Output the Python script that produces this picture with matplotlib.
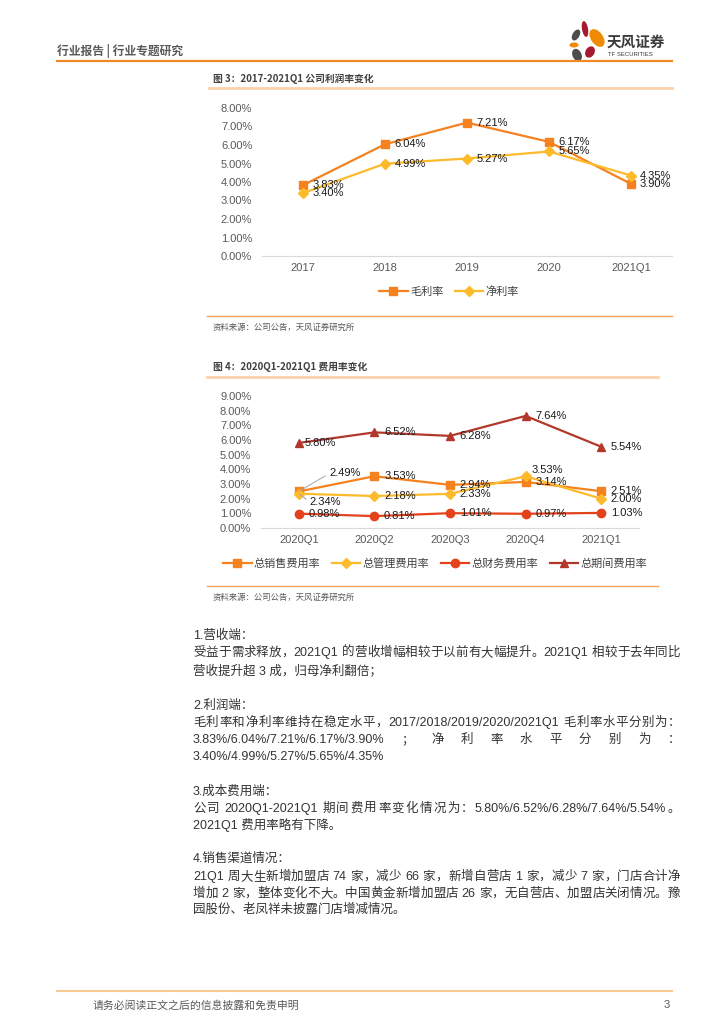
import re
import matplotlib
matplotlib.use('Agg')
import matplotlib.pyplot as plt
from matplotlib.patches import Ellipse
import numpy as np

plt.rcParams['font.family'] = ['Liberation Sans', 'Noto Sans CJK SC']

# ---- data ----
years = ['2017', '2018', '2019', '2020', '2021Q1']
gross_margin = [3.83, 6.04, 7.21, 6.17, 3.90]
net_margin = [3.40, 4.99, 5.27, 5.65, 4.35]

quarters = ['2020Q1', '2020Q2', '2020Q3', '2020Q4', '2021Q1']
selling_rate = [2.49, 3.53, 2.94, 3.14, 2.51]
admin_rate = [2.34, 2.18, 2.33, 3.53, 2.00]
finance_rate = [0.98, 0.81, 1.01, 0.97, 1.03]
period_rate = [5.80, 6.52, 6.28, 7.64, 5.54]

# (text, y, justify)
body = [
    ('1.营收端：', 636, False),
    ('受益于需求释放，2021Q1 的营收增幅相较于以前有大幅提升。2021Q1 相较于去年同比', 653, True),
    ('营收提升超 3 成，归母净利翻倍；', 671, False),
    ('2.利润端：', 706, False),
    ('毛利率和净利率维持在稳定水平，2017/2018/2019/2020/2021Q1 毛利率水平分别为：', 723, True),
    ('3.83%/6.04%/7.21%/6.17%/3.90%；净利率水平分别为：', 740, True),
    ('3.40%/4.99%/5.27%/5.65%/4.35%', 757, False),
    ('3.成本费用端：', 792, False),
    ('公司 2020Q1-2021Q1 期间费用率变化情况为：5.80%/6.52%/6.28%/7.64%/5.54%。', 809, True),
    ('2021Q1 费用率略有下降。', 825, False),
    ('4.销售渠道情况：', 859, False),
    ('21Q1 周大生新增加盟店 74 家，减少 66 家，新增自营店 1 家，减少 7 家，门店合计净', 877, True),
    ('增加 2 家，整体变化不大。中国黄金新增加盟店 26 家，无自营店、加盟店关闭情况。豫', 894, True),
    ('园股份、老凤祥未披露门店增减情况。', 910, False),
]

W, H = 724, 1024
fig = plt.figure(figsize=(7.24, 10.24), dpi=100)
page = fig.add_axes([0, 0, 1, 1], zorder=0)
page.set_xlim(0, W)
page.set_ylim(H, 0)
page.axis('off')

ORANGE = '#F5821F'
GOLD = '#FDBB2C'
RED = '#E3421D'
DARKRED = '#B3382C'
GRAY = '#595959'


def px_axes(l, t, r, b):
    ax = fig.add_axes([l / W, 1 - b / H, (r - l) / W, (b - t) / H], zorder=2)
    ax.patch.set_alpha(0)
    return ax


def style(ax, ymax, cats):
    ax.set_ylim(0, ymax)
    ax.set_yticks(np.arange(0, ymax + 1))
    ax.yaxis.set_major_formatter(lambda v, p: f'{v:.2f}%')
    ax.set_xticks(range(len(cats)))
    ax.set_xticklabels(cats)
    ax.set_xlim(-0.5, len(cats) - 0.5)
    for s in ['left', 'right', 'top']:
        ax.spines[s].set_visible(False)
    ax.spines['bottom'].set_color('#d9d9d9')
    ax.tick_params(length=0, labelsize=8, labelcolor=GRAY)
    ax.tick_params(axis='y', pad=7)
    ax.tick_params(axis='x', pad=5)


def label(ax, i, v, dx=7, dy=0, line=False):
    kw = {}
    if line:
        kw['arrowprops'] = dict(arrowstyle='-', color='#a6a6a6', lw=0.7,
                                shrinkA=1, shrinkB=1, relpos=(0, 0.5))
    ax.annotate(f'{v:.2f}%', (i, v), xytext=(dx, dy), textcoords='offset points',
                ha='left', va='center', fontsize=8, color='#1a1a1a', zorder=5, **kw)


# ---- header ----
page.text(57, 51, '行业报告 | 行业专题研究', fontsize=8.5, fontweight='bold',
          color=GRAY, va='center', family=['Noto Sans CJK SC'])
page.plot([57, 672], [61, 61], color='#F08A24', lw=1.6)
for (cx, cy, w, h, ang, col) in [
        (576, 35, 7, 12, 30, '#4d4d4d'),
        (585, 29, 6, 16, -10, '#A6192E'),
        (597, 38, 12, 20, -35, '#F08A00'),
        (574, 45, 9, 5, 0, '#F08A00'),
        (590, 52, 9, 12, 30, '#A6192E'),
        (577, 55, 9, 13, -25, '#4d4d4d')]:
    page.add_patch(Ellipse((cx, cy), w, h, angle=ang, color=col, lw=0))
page.text(607, 42, '天风证券', fontsize=10.5, fontweight='bold', color='#3a3a3a',
          va='center', family=['Noto Sans CJK SC'])
page.text(608, 55, 'TF SECURITIES', fontsize=4.3, color='#3a3a3a', va='center')

# ---- figure 3 ----
page.text(213, 79, '图 3：2017-2021Q1 公司利润率变化', fontsize=7, fontweight='bold',
          color='#404040', va='center', family=['Noto Sans CJK SC'])
page.plot([209, 672], [88, 88], color='#FBD2AC', lw=2)

ax1 = px_axes(262, 108, 672, 256)
x = np.arange(len(years))
ax1.plot(x, gross_margin, color=ORANGE, lw=1.6, marker='s', ms=6, label='毛利率', zorder=3)
ax1.plot(x, net_margin, color=GOLD, lw=1.6, marker='D', ms=5, label='净利率', zorder=3)
style(ax1, 8, years)
for i, v in enumerate(gross_margin):
    label(ax1, i, v, dx=7 if i < 4 else 6)
for i, v in enumerate(net_margin):
    label(ax1, i, v, dx=7 if i < 4 else 6)
ax1.legend(loc='center', bbox_to_anchor=(449 / W, 1 - 292 / H), bbox_transform=fig.transFigure,
           ncol=2, frameon=False, fontsize=8, handlelength=2.6, handletextpad=0.2,
           columnspacing=1.0, labelcolor='#404040')

page.plot([207, 672], [316, 316], color='#F4A15A', lw=1)
page.text(213, 327, '资料来源：公司公告，天风证券研究所', fontsize=6, color=GRAY, va='center',
          family=['Noto Sans CJK SC'])

# ---- figure 4 ----
page.text(213, 367, '图 4：2020Q1-2021Q1 费用率变化', fontsize=7, fontweight='bold',
          color='#404040', va='center', family=['Noto Sans CJK SC'])
page.plot([207, 658], [377, 377], color='#FBD2AC', lw=2)

ax2 = px_axes(261, 396, 639, 528)
x = np.arange(len(quarters))
ax2.plot(x, selling_rate, color=ORANGE, lw=1.6, marker='s', ms=6, label='总销售费用率', zorder=3)
ax2.plot(x, admin_rate, color=GOLD, lw=1.6, marker='D', ms=5, label='总管理费用率', zorder=3)
ax2.plot(x, finance_rate, color=RED, lw=1.6, marker='o', ms=6, label='总财务费用率', zorder=3)
ax2.plot(x, period_rate, color=DARKRED, lw=1.6, marker='^', ms=6, label='总期间费用率', zorder=3)
style(ax2, 9, quarters)
for i, v in enumerate(selling_rate):
    if i == 0:
        label(ax2, i, v, dx=22, dy=13, line=True)
    else:
        label(ax2, i, v)
for i, v in enumerate(admin_rate):
    if i == 0:
        label(ax2, i, v, dx=8, dy=-6, line=True)
    elif i == 3:
        label(ax2, i, v, dx=4.5, dy=4.5)
    else:
        label(ax2, i, v)
for i, v in enumerate(finance_rate):
    label(ax2, i, v)
for i, v in enumerate(period_rate):
    label(ax2, i, v, dx=4 if i == 0 else 7)
ax2.legend(loc='center', bbox_to_anchor=(435 / W, 1 - 563 / H), bbox_transform=fig.transFigure,
           ncol=4, frameon=False, fontsize=8, handlelength=2.6, handletextpad=0.2,
           columnspacing=1.0, labelcolor='#404040')

page.plot([207, 658], [586, 586], color='#F4A15A', lw=1)
page.text(213, 597, '资料来源：公司公告，天风证券研究所', fontsize=6, color=GRAY, va='center',
          family=['Noto Sans CJK SC'])

# ---- body text ----
renderer = fig.canvas.get_renderer()
body_kw = dict(fontsize=9, color='#333333', va='center')
left, right = 193, 680


def width(s):
    t = page.text(0, 0, s, **body_kw)
    w = t.get_window_extent(renderer).width
    t.remove()
    return w


for s, y, just in body:
    if not just:
        page.text(left, y, s, **body_kw)
        continue
    toks = re.findall(r'[A-Za-z0-9.%/\-]+| |.', s)
    units, extra = [], []
    for tk in toks:
        if tk == ' ':
            if extra:
                extra[-1] += 3.5
            continue
        units.append(tk)
        extra.append(0.0)
    ws = [width(u) for u in units]
    fixed = sum(ws) + sum(extra[:-1])
    gap = (right - left - fixed) / (len(units) - 1)
    xx = left
    for u, w, e in zip(units, ws, extra):
        page.text(xx, y, u, **body_kw)
        xx += w + gap + e

# ---- footer ----
page.plot([57, 672], [991, 991], color='#F9CB94', lw=1.5)
page.text(93, 1005, '请务必阅读正文之后的信息披露和免责申明', fontsize=7.8, color=GRAY,
          va='center', family=['Noto Sans CJK SC'])
page.text(670, 1005, '3', fontsize=8, color=GRAY, va='center', ha='right')

fig.savefig('out.png', dpi=100)
